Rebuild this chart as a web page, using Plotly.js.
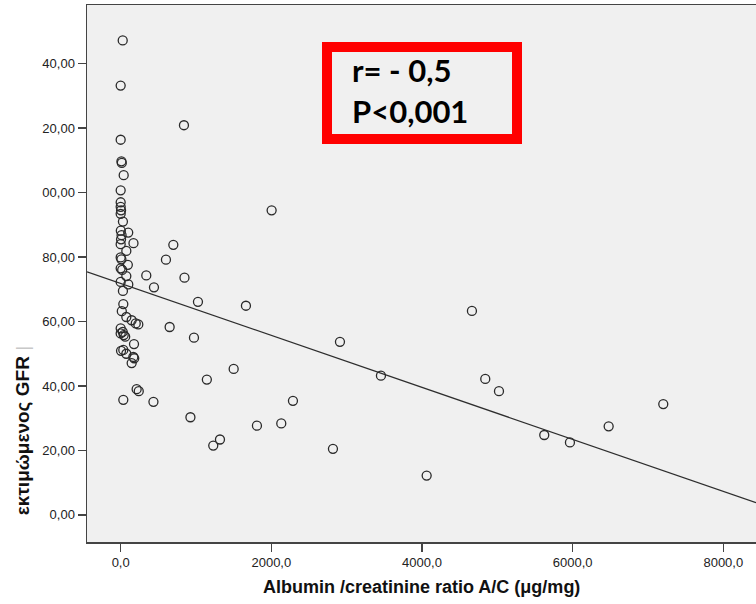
<!DOCTYPE html>
<html>
<head>
<meta charset="utf-8">
<script src="https://cdn.plot.ly/plotly-3.0.1.min.js"></script>
<style>html,body{margin:0;padding:0;background:#fff;}#chart{width:756px;height:604px;}</style>
</head>
<body>
<div id="chart"></div>
<script>
// Albumin/creatinine ratio A/C (μg/mg)
const acRatio = [
  27, 0, 840, 0, 10, 15, 40, 0, 0, 0,
  5, 0, 30, 2, 100, 12, 5, 170, 0, 699,
  75, 601, 0, 10, 95, 0, 20, 340, 75, 847,
  0, 101, 442, 30, 1026, 1663, 35, 15, 75, 146,
  200, 234, 650, 0, 27, 0, 40, 60, 177, 973,
  35, 5, 75, 168, 180, 146, 1500, 1144, 212, 240,
  35, 435, 926, 2004, 2911, 3455, 2287, 2132, 1809, 1318,
  1229, 2818, 4663, 4840, 5022, 4062, 5623, 5964, 6478, 7203
];
// estimated GFR
const gfr = [
  147.2, 133.2, 120.9, 116.4, 109.7, 109.2, 105.4, 100.7, 97.0, 95.6,
  94.5, 93.4, 91.0, 88.2, 87.6, 86.8, 85.5, 84.3, 84.0, 83.8,
  81.9, 79.2, 79.9, 79.3, 77.6, 76.5, 76.0, 74.3, 74.1, 73.6,
  72.3, 71.5, 70.6, 69.5, 66.1, 64.9, 65.4, 63.2, 61.4, 60.4,
  59.4, 59.1, 58.3, 57.9, 56.8, 56.3, 55.8, 55.3, 53.0, 55.0,
  51.2, 50.9, 50.0, 49.0, 48.6, 47.1, 45.3, 42.0, 39.0, 38.4,
  35.7, 35.1, 30.3, 94.5, 53.7, 43.2, 35.4, 28.4, 27.7, 23.4,
  21.5, 20.5, 63.3, 42.2, 38.4, 12.2, 24.8, 22.5, 27.5, 34.4
];
// linear fit line
const fitIntercept = 71.84;
const fitSlope = -0.00807;

const xTickVals = [0, 2000, 4000, 6000, 8000];
const xTickText = ["0,0", "2000,0", "4000,0", "6000,0", "8000,0"];
const yTickVals = [0, 20, 40, 60, 80, 100, 120, 140];
const yTickText = ["0,00", "20,00", "40,00", "60,00", "80,00", "00,00", "20,00", "40,00"];

const xRange = [-447, 8434];
const yRange = [-8.4, 158.2];

const statLines = ["r= - 0,5", "P<0,001"];
const xTitle = "Albumin /creatinine ratio A/C (μg/mg)";
const yTitle = "εκτιμώμενος GFR";

const fitX = xRange.slice();
const fitY = fitX.map(x => fitIntercept + fitSlope * x);

const traces = [
  {
    x: fitX, y: fitY, type: 'scatter', mode: 'lines',
    line: {color: '#2e2e2e', width: 1.3},
    hoverinfo: 'skip', showlegend: false
  },
  {
    x: acRatio, y: gfr, type: 'scatter', mode: 'markers',
    marker: {symbol: 'circle-open', size: 9, color: '#2a2a2a', line: {width: 1.3, color: '#2a2a2a'}},
    showlegend: false
  }
];

const axisCommon = {
  showgrid: false, zeroline: false, showline: true,
  linecolor: '#444', linewidth: 1.5,
  ticks: 'outside', ticklen: 8, tickwidth: 1.5, tickcolor: '#444',
  tickfont: {family: 'Liberation Sans, Arial, sans-serif', size: 13, color: '#222'}
};

const layout = {
  width: 756, height: 604,
  margin: {l: 87, r: 0, t: 5, b: 62, pad: 0},
  paper_bgcolor: '#ffffff',
  plot_bgcolor: '#f0f0f0',
  showlegend: false,
  xaxis: Object.assign({}, axisCommon, {
    range: xRange, tickmode: 'array', tickvals: xTickVals, ticktext: xTickText,
    mirror: true
  }),
  yaxis: Object.assign({}, axisCommon, {
    range: yRange, tickmode: 'array', tickvals: yTickVals, ticktext: yTickText
  }),
  shapes: [
    {type: 'rect', xref: 'paper', yref: 'paper',
     x0: (327 - 87) / 669, x1: (517 - 87) / 669,
     y0: (541.7 - 139) / 536.7, y1: (541.7 - 47) / 536.7,
     line: {color: '#ff0000', width: 10}, fillcolor: 'rgba(0,0,0,0)'}
  ],
  annotations: [
    {text: statLines[0], xref: 'paper', yref: 'paper', showarrow: false,
     x: (350 - 87) / 669, xanchor: 'left', y: (541.7 - 70) / 536.7, yanchor: 'middle',
     font: {family: 'Lato, Open Sans, sans-serif', size: 31, color: '#000', weight: 'bold'}},
    {text: statLines[1], xref: 'paper', yref: 'paper', showarrow: false,
     x: (350 - 87) / 669, xanchor: 'left', y: (541.7 - 111) / 536.7, yanchor: 'middle',
     font: {family: 'Lato, Open Sans, sans-serif', size: 31, color: '#000', weight: 'bold'}},
    {text: '<b>' + xTitle + '</b>', xref: 'paper', yref: 'paper', showarrow: false,
     x: 0.5, xanchor: 'center', y: (541.7 - 587) / 536.7, yanchor: 'middle',
     font: {family: 'Liberation Sans, Arial, sans-serif', size: 18, color: '#111'}},
    {text: '<b>' + yTitle + '</b> <span style="color:#c8c8c8">|</span>', xref: 'paper', yref: 'paper', showarrow: false,
     textangle: -90,
     x: (22 - 87) / 669, xanchor: 'center', y: (541.7 - 431) / 536.7, yanchor: 'middle',
     font: {family: 'Liberation Sans, Arial, sans-serif', size: 19, color: '#111'}}
  ]
};

Plotly.newPlot('chart', traces, layout, {displayModeBar: false, staticPlot: true});
</script>
</body>
</html>
